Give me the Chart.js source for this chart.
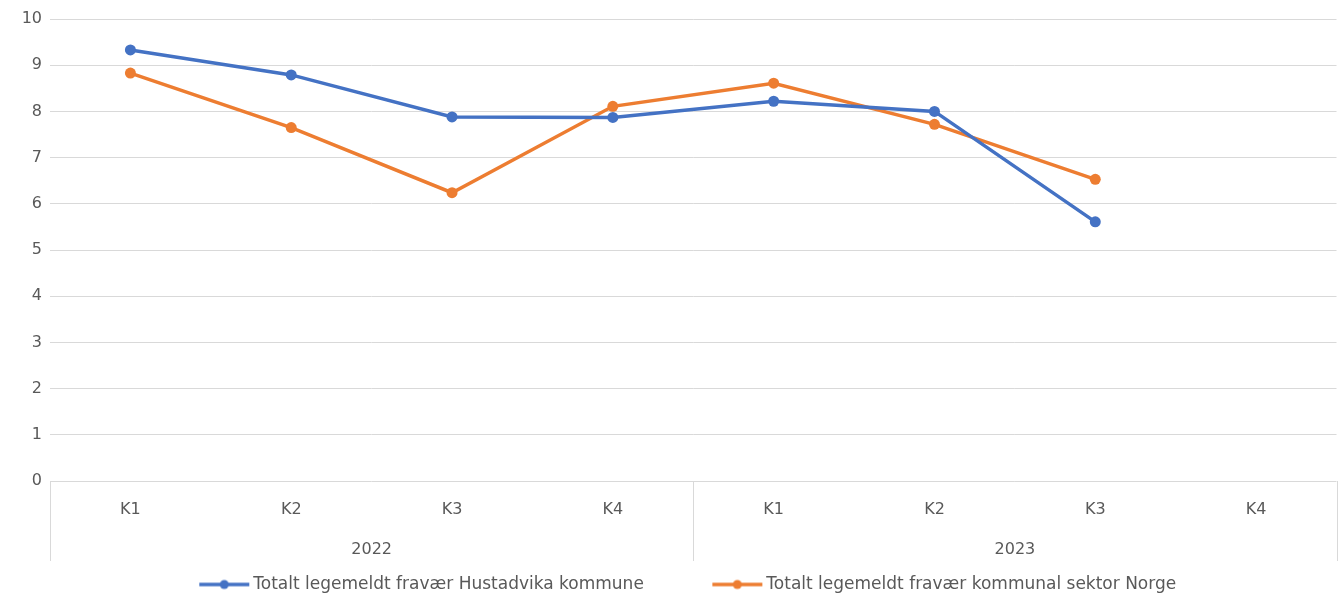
<!DOCTYPE html>
<html>
<head>
<meta charset="utf-8">
<script src="https://cdn.jsdelivr.net/npm/chart.js@4"></script>
<style>
  html, body { margin: 0; padding: 0; background: #ffffff; }
  #wrap { width: 1342px; height: 600px; }
</style>
</head>
<body>
<div id="wrap"><canvas id="c" width="1342" height="600"></canvas></div>
<script>
// Quarter labels (two years of four quarters) and year group labels
const quarters = ['K1', 'K2', 'K3', 'K4', 'K1', 'K2', 'K3', 'K4'];
const years = ['2022', '2023'];

// Sick leave (%) per quarter
const hustadvika = [9.33, 8.79, 7.88, 7.87, 8.22, 8.0, 5.61, null];
const kommunalSektor = [8.83, 7.65, 6.24, 8.11, 8.61, 7.72, 6.53, null];

const seriesNames = [
  'Totalt legemeldt fravær Hustadvika kommune',
  'Totalt legemeldt fravær kommunal sektor Norge'
];

const yTicks = { min: 0, max: 10, step: 1 };

const BLUE = '#4472C4';
const ORANGE = '#ED7D31';
const TEXT = '#595959';
const GRID = '#d9d9d9';
const FONT = "'DejaVu Sans', sans-serif";
const FSIZE = 16;
const LEGEND_FSIZE = 17;

// Legend slot width; the marker image is a bit wider so the line sits close to the text
const MARKER_SLOT = 84;
const MARKER_IMG = MARKER_SLOT + LEGEND_FSIZE / 2 * 2 - 6;
const MARKER_LINE = 50;
// The legend uses a wide item padding for horizontal spacing; pull it up by this much
const LEGEND_LIFT = 20;

// Legend marker: a short line with a dot in the middle, right-aligned in a transparent image
function lineMarker(color) {
  const cv = document.createElement('canvas');
  cv.width = Math.round(MARKER_IMG); cv.height = 12;
  const g = cv.getContext('2d');
  const x1 = cv.width - 1, x0 = x1 - MARKER_LINE;
  g.strokeStyle = color; g.lineWidth = 3.5; g.lineCap = 'butt';
  g.beginPath(); g.moveTo(x0, 6); g.lineTo(x1, 6); g.stroke();
  g.fillStyle = color;
  g.beginPath(); g.arc((x0 + x1) / 2, 6, 4.5, 0, Math.PI * 2); g.fill();
  return cv;
}

// Moves the legend box up after layout so the extra item padding does not eat plot space
const legendLift = {
  id: 'legendLift',
  afterLayout(chart) {
    const lg = chart.legend;
    if (lg) {
      lg.top -= LEGEND_LIFT;
      lg.bottom -= LEGEND_LIFT;
    }
  }
};

// Vertical separators between year groups, spanning the category axis area
const groupSeparators = {
  id: 'groupSeparators',
  afterDraw(chart) {
    const x = chart.scales.x;
    const yr = chart.scales.year;
    const ctx = chart.ctx;
    const step = x.getPixelForValue(1) - x.getPixelForValue(0);
    const perGroup = quarters.length / years.length;
    ctx.save();
    ctx.strokeStyle = GRID;
    ctx.lineWidth = 1;
    for (let g = 0; g <= years.length; g++) {
      const px = Math.round(x.getPixelForValue(g * perGroup) - step / 2) + 0.5;
      ctx.beginPath();
      ctx.moveTo(px, chart.chartArea.bottom);
      ctx.lineTo(px, yr.bottom - 5);
      ctx.stroke();
    }
    ctx.restore();
  }
};

new Chart(document.getElementById('c'), {
  type: 'line',
  data: {
    labels: quarters,
    datasets: [
      {
        label: seriesNames[0],
        data: hustadvika,
        borderColor: BLUE,
        backgroundColor: BLUE,
        borderWidth: 3.5,
        pointRadius: 5.5,
        pointBackgroundColor: BLUE,
        pointBorderWidth: 0,
        pointStyle: 'circle',
        tension: 0,
        spanGaps: false
      },
      {
        label: seriesNames[1],
        data: kommunalSektor,
        borderColor: ORANGE,
        backgroundColor: ORANGE,
        borderWidth: 3.5,
        pointRadius: 5.5,
        pointBackgroundColor: ORANGE,
        pointBorderWidth: 0,
        pointStyle: 'circle',
        tension: 0,
        spanGaps: false
      }
    ]
  },
  options: {
    responsive: false,
    animation: false,
    devicePixelRatio: 1,
    layout: { padding: { top: 19, right: 5, bottom: -3 - LEGEND_LIFT, left: 0 } },
    plugins: {
      legend: {
        position: 'bottom',
        labels: {
          usePointStyle: true,
          pointStyleWidth: MARKER_SLOT,
          font: { family: FONT, size: LEGEND_FSIZE },
          color: TEXT,
          padding: 30,
          boxHeight: 12,
          generateLabels(chart) {
            return chart.data.datasets.map((ds, i) => ({
              text: ds.label,
              fillStyle: ds.borderColor,
              strokeStyle: ds.borderColor,
              fontColor: TEXT,
              lineWidth: 0,
              pointStyle: lineMarker(ds.borderColor),
              hidden: false,
              datasetIndex: i
            }));
          }
        }
      },
      tooltip: { enabled: false }
    },
    scales: {
      x: {
        type: 'category',
        offset: true,
        grid: { display: false },
        border: { display: false },
        ticks: {
          color: TEXT,
          font: { family: FONT, size: FSIZE },
          padding: 11,
          maxRotation: 0
        },
        afterFit(scale) { scale.height = 40; }
      },
      year: {
        type: 'category',
        position: 'bottom',
        labels: years,
        offset: true,
        grid: { display: false },
        border: { display: false },
        ticks: {
          color: TEXT,
          font: { family: FONT, size: FSIZE },
          padding: 11,
          maxRotation: 0
        },
        afterFit(scale) { scale.height = 45; }
      },
      y: {
        min: yTicks.min,
        max: yTicks.max,
        grid: { color: GRID, lineWidth: 1, drawTicks: false },
        border: { display: false },
        ticks: {
          stepSize: yTicks.step,
          color: TEXT,
          font: { family: FONT, size: FSIZE },
          padding: 8
        },
        afterFit(scale) { scale.width = 50; }
      }
    }
  },
  plugins: [legendLift, groupSeparators]
});
</script>
</body>
</html>
